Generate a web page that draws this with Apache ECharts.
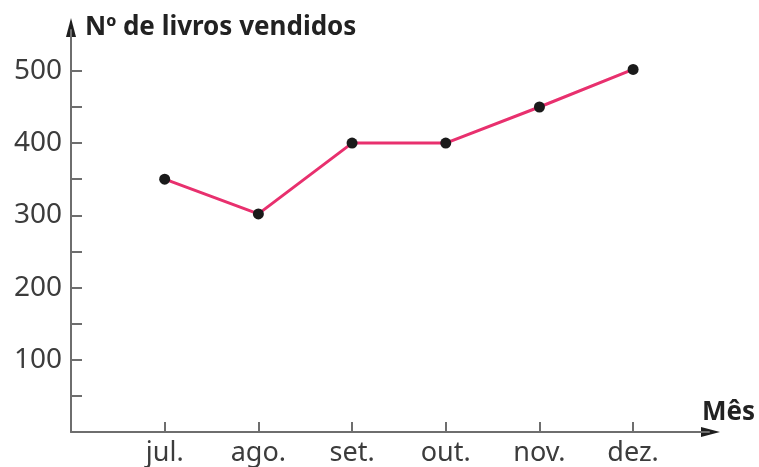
<!DOCTYPE html>
<html>
<head>
<meta charset="utf-8">
<script src="https://cdn.jsdelivr.net/npm/echarts@6/dist/echarts.min.js"></script>
<style>
  html, body { margin: 0; padding: 0; background: #fff; }
  #chart { width: 759px; height: 467px; }
</style>
</head>
<body>
<div id="chart"></div>
<script>
// dados do gráfico
var meses = ['jul.', 'ago.', 'set.', 'out.', 'nov.', 'dez.'];
var livrosVendidos = [350, 302, 400, 400, 450, 502];
var posMeses = [1, 2, 3, 4, 5, 6];
var yTicks = [50, 100, 150, 200, 250, 300, 350, 400, 450, 500];
var yLabels = [100, 200, 300, 400, 500];

var chart = echarts.init(document.getElementById('chart'));

var eixoCor = '#6e6e6e';
var setaCor = '#1e1e1e';
var textoCor = '#3c3c3c';
var fonte = '"Noto Sans", sans-serif';

var option = {
    animation: false,
    grid: {
        left: 71,
        right: 50,
        top: 30,
        bottom: 35
    },
    xAxis: {
        type: 'value',
        min: 0,
        max: 6.81,
        splitLine: { show: false },
        axisLine: {
            show: true,
            lineStyle: { color: eixoCor, width: 2 }
        },
        axisTick: {
            show: true,
            inside: true,
            length: 10,
            customValues: posMeses,
            lineStyle: { color: eixoCor, width: 2 }
        },
        axisLabel: {
            customValues: posMeses,
            margin: 8,
            color: textoCor,
            fontSize: 27,
            fontFamily: fonte,
            formatter: function (v) { return meses[v - 1] || ''; }
        }
    },
    yAxis: {
        type: 'value',
        min: 0,
        max: 556.6,
        splitLine: { show: false },
        axisLine: {
            show: true,
            lineStyle: { color: eixoCor, width: 2 }
        },
        axisTick: {
            show: true,
            inside: true,
            length: 11,
            customValues: yTicks,
            lineStyle: { color: eixoCor, width: 2 }
        },
        axisLabel: {
            customValues: yLabels,
            margin: 9,
            color: textoCor,
            fontSize: 28,
            fontFamily: fonte
        }
    },
    graphic: [
        {
            // seta do eixo vertical
            type: 'polygon',
            shape: { points: [[71, 18], [66, 37], [76, 37]] },
            style: { fill: setaCor }
        },
        {
            // seta do eixo horizontal
            type: 'polygon',
            shape: { points: [[720, 432], [701, 427], [701, 437]] },
            style: { fill: setaCor }
        },
        {
            type: 'text',
            x: 85,
            y: 27.5,
            style: {
                text: 'Nº de livros vendidos',
                fill: '#222',
                font: 'bold 26px "Noto Sans", sans-serif',
                textAlign: 'left',
                textVerticalAlign: 'middle'
            }
        },
        {
            type: 'text',
            x: 755,
            y: 412.5,
            style: {
                text: 'Mês',
                fill: '#222',
                font: 'bold 26px "Noto Sans", sans-serif',
                textAlign: 'right',
                textVerticalAlign: 'middle'
            }
        }
    ],
    series: [{
        type: 'line',
        data: posMeses.map(function (p, i) { return [p, livrosVendidos[i]]; }),
        symbol: 'circle',
        symbolSize: 11,
        itemStyle: { color: '#1a1a1a' },
        lineStyle: { color: '#e8306e', width: 3 }
    }]
};

chart.setOption(option);
</script>
</body>
</html>
